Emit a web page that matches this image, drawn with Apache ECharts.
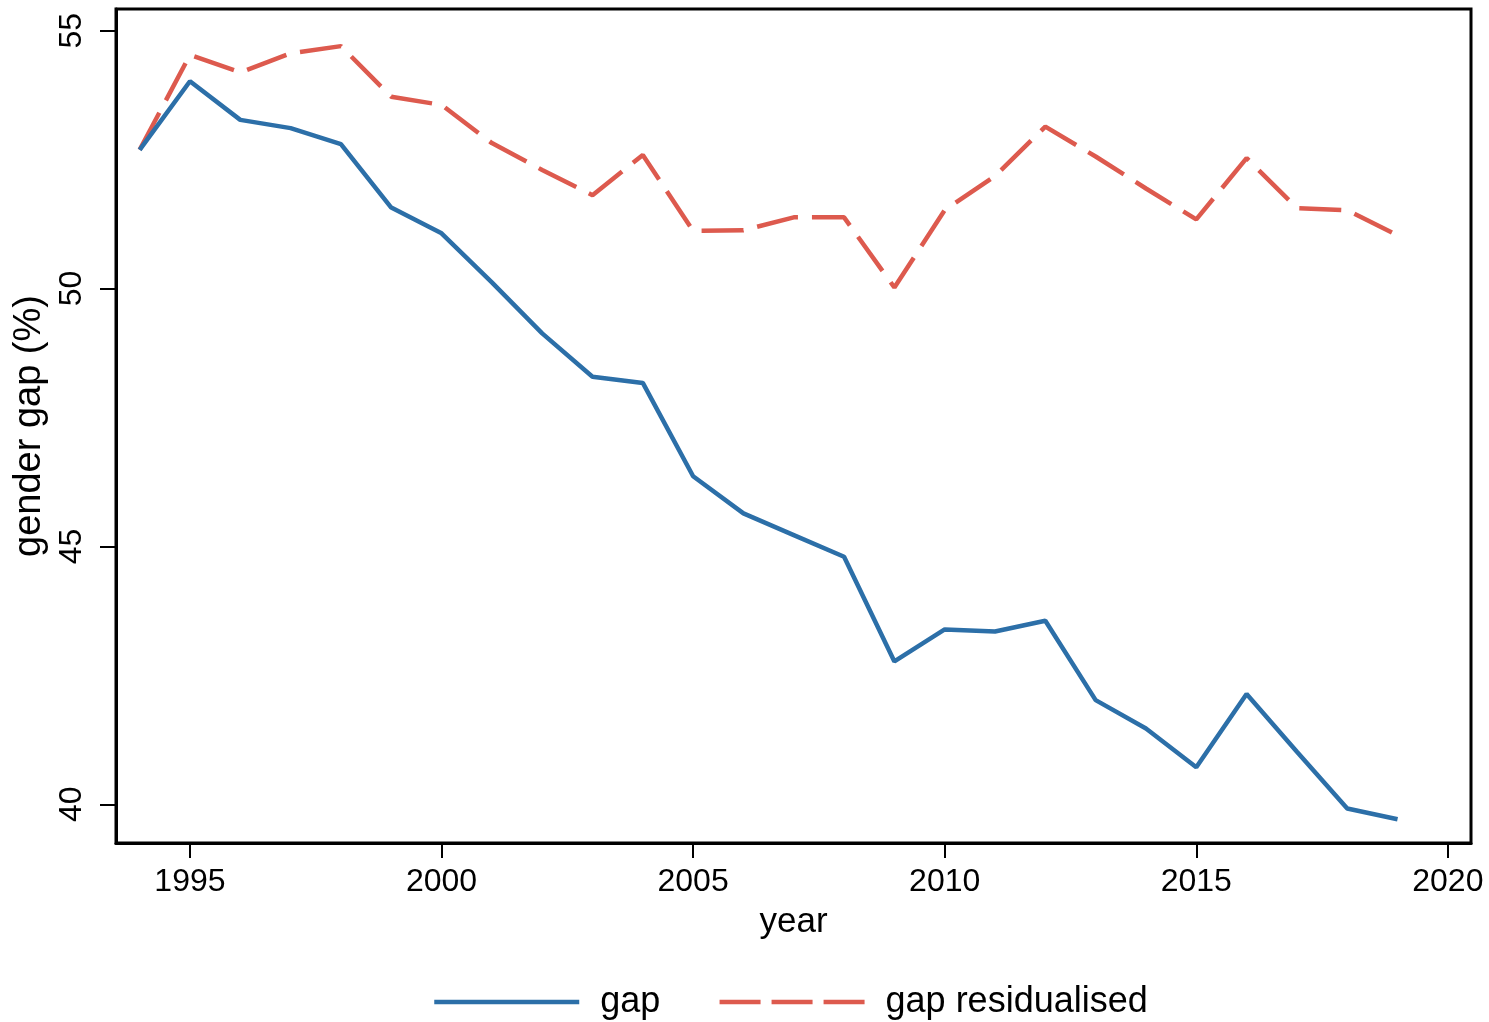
<!DOCTYPE html>
<html>
<head>
<meta charset="utf-8">
<script src="https://cdn.jsdelivr.net/npm/echarts@6/dist/echarts.min.js"></script>
<style>
  html, body { margin: 0; padding: 0; background: #ffffff; }
  #chart { width: 1489px; height: 1022px; }
</style>
</head>
<body>
<div id="chart"></div>
<script>
const years = [1994, 1995, 1996, 1997, 1998, 1999, 2000, 2001, 2002, 2003, 2004, 2005, 2006,
               2007, 2008, 2009, 2010, 2011, 2012, 2013, 2014, 2015, 2016, 2017, 2018, 2019];
const gap = [52.69, 54.02, 53.27, 53.11, 52.80, 51.57, 51.07, 50.12, 49.13, 48.29, 48.17, 46.36, 45.64,
             45.22, 44.80, 42.77, 43.39, 43.35, 43.56, 42.02, 41.47, 40.72, 42.14, 41.02, 39.92, 39.71];
const gapResidualised = [52.69, 54.53, 54.19, 54.56, 54.70, 53.72, 53.56, 52.82, 52.30, 51.81, 52.59, 51.12, 51.13,
             51.38, 51.38, 50.02, 51.52, 52.18, 53.14, 52.56, 51.94, 51.34, 52.53, 51.56, 51.52, 51.03];
const xTicks = [1995, 2000, 2005, 2010, 2015, 2020];
const yTicks = [40, 45, 50, 55];
const seriesNames = ['gap', 'gap residualised'];

const FONT = "'Liberation Sans', Arial, Helvetica, sans-serif";
const chart = echarts.init(document.getElementById('chart'), null, { renderer: 'canvas' });

const option = {
  animation: false,
  backgroundColor: '#ffffff',
  textStyle: { fontFamily: FONT, color: '#000' },
  grid: {
    left: 116, right: 18, top: 9, bottom: 179,
    show: true, borderColor: '#000', borderWidth: 3, backgroundColor: '#fff'
  },
  legend: {
    bottom: -3,
    left: 427,
    itemWidth: 145,
    itemHeight: 20,
    itemGap: 57,
    itemStyle: { opacity: 0 },
    lineStyle: { width: 4.5 },
    textStyle: { fontSize: 36, color: '#000', fontFamily: FONT, padding: [0, 0, 0, 16] },
    data: [
      { name: seriesNames[0] },
      { name: seriesNames[1], lineStyle: { type: [41, 11], width: 4.5 } }
    ]
  },
  xAxis: {
    type: 'value',
    min: 1993.53,
    max: 2020.46,
    name: 'year',
    nameLocation: 'middle',
    nameGap: 62,
    nameTextStyle: { fontSize: 35, color: '#000', fontFamily: FONT },
    axisLine: { show: true, lineStyle: { color: '#000', width: 3 } },
    axisTick: { show: true, inside: false, length: 15, lineStyle: { color: '#000', width: 2 }, customValues: xTicks },
    axisLabel: { fontSize: 32, color: '#000', margin: 23, fontFamily: FONT, customValues: xTicks, formatter: v => String(v) },
    splitLine: { show: false }
  },
  yAxis: {
    type: 'value',
    min: 39.25,
    max: 55.42,
    name: 'gender gap (%)',
    nameLocation: 'middle',
    nameGap: 60,
    nameTextStyle: { fontSize: 38, color: '#000', fontFamily: FONT },
    axisLine: { show: true, lineStyle: { color: '#000', width: 3 } },
    axisTick: { show: true, inside: false, length: 16, lineStyle: { color: '#000', width: 2 }, customValues: yTicks },
    axisLabel: { fontSize: 32, color: '#000', margin: 28, rotate: 90, fontFamily: FONT, customValues: yTicks, formatter: v => String(v) },
    splitLine: { show: false }
  },
  series: [
    {
      name: seriesNames[0],
      type: 'line',
      data: years.map((y, i) => [y, gap[i]]),
      showSymbol: false,
      symbol: 'none',
      lineStyle: { color: '#2c6fa8', width: 4.5, type: 'solid' },
      itemStyle: { color: '#2c6fa8' },
      z: 3
    },
    {
      name: seriesNames[1],
      type: 'line',
      data: years.map((y, i) => [y, gapResidualised[i]]),
      showSymbol: false,
      symbol: 'none',
      lineStyle: { color: '#dd5a4e', width: 4.5, type: [42, 14] },
      itemStyle: { color: '#dd5a4e' },
      z: 2
    }
  ]
};
chart.setOption(option);
</script>
</body>
</html>
